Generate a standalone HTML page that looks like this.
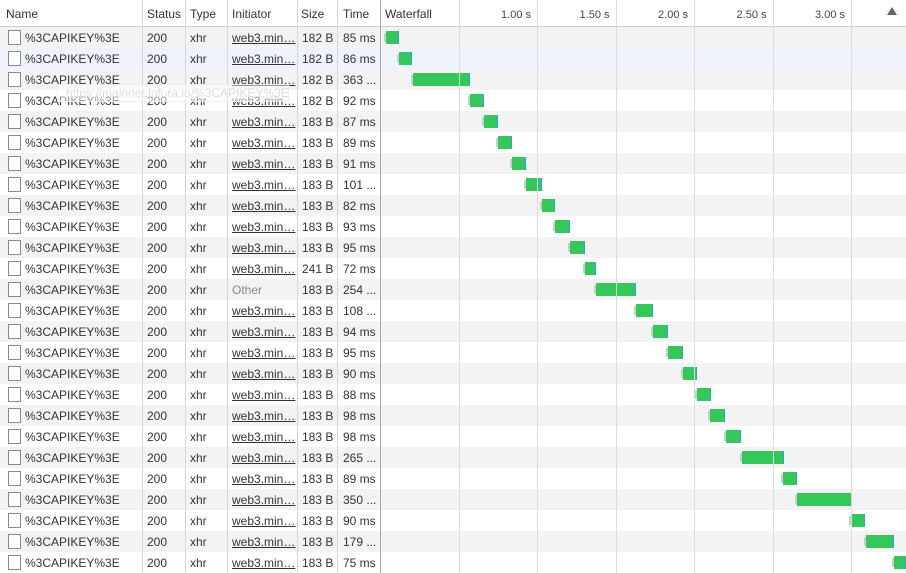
<!DOCTYPE html>
<html><head><meta charset="utf-8"><style>
body{margin:0;width:906px;height:573px;overflow:hidden;background:#fff;font-family:"Liberation Sans",sans-serif;font-size:12px;color:#333;position:relative}
.hdr{position:absolute;left:0;top:0;width:906px;height:26px;border-bottom:1px solid #cdcdcd;background:#fff}
.h{position:absolute;top:7px}
.row{position:absolute;left:0;width:906px;height:21px}
.c{position:absolute;top:4px;white-space:nowrap}
.cb{position:absolute;left:8px;top:3px;width:11px;height:13px;border:1px solid #8a8a8a;background:#fff}
.vl{position:absolute;top:0;width:1px;height:573px;background:#d6d6d6}
.gl{position:absolute;top:0;width:1px;height:573px;background:#dcdcdc}
.lbl{position:absolute;top:9px;color:#444;font-size:11px}
.bar{position:absolute;height:13px;background:#34c759;border-right:1px solid #2aa0f0;box-sizing:border-box}
.wait{position:absolute;width:2px;height:9px;background:#ccc}
</style></head><body>
<div class="hdr"></div>
<div id="rows"></div>
<div id="grid"></div>
<div class="h" style="left:6px">Name</div>
<div class="h" style="left:147px">Status</div>
<div class="h" style="left:190px">Type</div>
<div class="h" style="left:232px">Initiator</div>
<div class="h" style="left:301px">Size</div>
<div class="h" style="left:343px">Time</div>
<div class="h" style="left:385px">Waterfall</div>
<div style="position:absolute;left:887px;top:7px;width:0;height:0;border-left:5px solid transparent;border-right:5px solid transparent;border-bottom:8px solid #666"></div>
<div style="position:absolute;left:57px;top:84px;width:232px;height:18px;border:1px solid #eee;background:rgba(255,255,255,0.5);color:#ddd;font-size:12px;padding:1px 0 0 8px;box-sizing:border-box">https://mainnet.infura.io/%3CAPIKEY%3E</div>
<script>
const startMs=[38,121,210,573,662,752,841,930,1032,1115,1210,1306,1376,1631,1739,1834,1930,2019,2102,2204,2306,2567,2656,3000,3096,3274];
const timeMs=[85,86,363,92,87,89,91,101,82,93,95,72,254,108,94,95,90,88,98,98,265,89,350,90,179,75];
const sizes=["182 B","182 B","182 B","182 B","183 B","183 B","183 B","183 B","183 B","183 B","183 B","241 B","183 B","183 B","183 B","183 B","183 B","183 B","183 B","183 B","183 B","183 B","183 B","183 B","183 B","183 B"];
const initiators=["web3.min…","web3.min…","web3.min…","web3.min…","web3.min…","web3.min…","web3.min…","web3.min…","web3.min…","web3.min…","web3.min…","web3.min…","Other","web3.min…","web3.min…","web3.min…","web3.min…","web3.min…","web3.min…","web3.min…","web3.min…","web3.min…","web3.min…","web3.min…","web3.min…","web3.min…"];
const tickSec=[1.0,1.5,2.0,2.5,3.0];
const X0=380,PPS=157;
function xs(ms){return X0+ms/1000*PPS;}
const rows=document.getElementById('rows');
startMs.forEach((s,i)=>{
  const r=document.createElement('div');
  r.className='row';
  r.style.top=(27+i*21)+'px';
  r.style.background=i===1?'#eef3fb':(i%2===0?'#f3f3f3':'#fff');
  
  
  const t=timeMs[i];
  const ts2=t>=100?String(t).slice(0,3)+' ...':t+' ms';
  r.innerHTML='<div class="cb"></div><div class="c" style="left:25px">%3CAPIKEY%3E</div><div class="c" style="left:147px">200</div><div class="c" style="left:190px">xhr</div>'+
   '<div class="c" style="left:232px;'+(initiators[i]==='Other'?'color:#888':'text-decoration:underline')+'">'+initiators[i]+'</div>'+
   '<div class="c" style="left:302px">'+sizes[i]+'</div><div class="c" style="left:343px">'+ts2+'</div>';
  const w=document.createElement('div');w.className='wait';
  w.style.left=(xs(s)-2)+'px';w.style.top='6px';
  
  
  r.appendChild(w);
  const b=document.createElement('div');b.className='bar';
  b.style.left=xs(s)+'px';b.style.width=Math.max(4,t/1000*PPS)+'px';b.style.top='4px';
  
  
  r.appendChild(b);
  rows.appendChild(r);
});
const g=document.getElementById('grid');
[142,185,227,297,337].forEach(x=>{const v=document.createElement('div');v.className='vl';v.style.left=x+'px';


g.appendChild(v);});
const wv=document.createElement('div');wv.className='vl';wv.style.left='380px';wv.style.background='#a8a8a8';


g.appendChild(wv);
[0.5].concat(tickSec).forEach(s=>{const l=document.createElement('div');l.className='gl';l.style.left=xs(s*1000)+'px';


g.appendChild(l);});
tickSec.forEach(s=>{const l=document.createElement('div');l.className='lbl';l.textContent=s.toFixed(2)+' s';
l.style.right=(906-xs(s*1000)+6)+'px';


document.body.appendChild(l);});
</script>
</body></html>
